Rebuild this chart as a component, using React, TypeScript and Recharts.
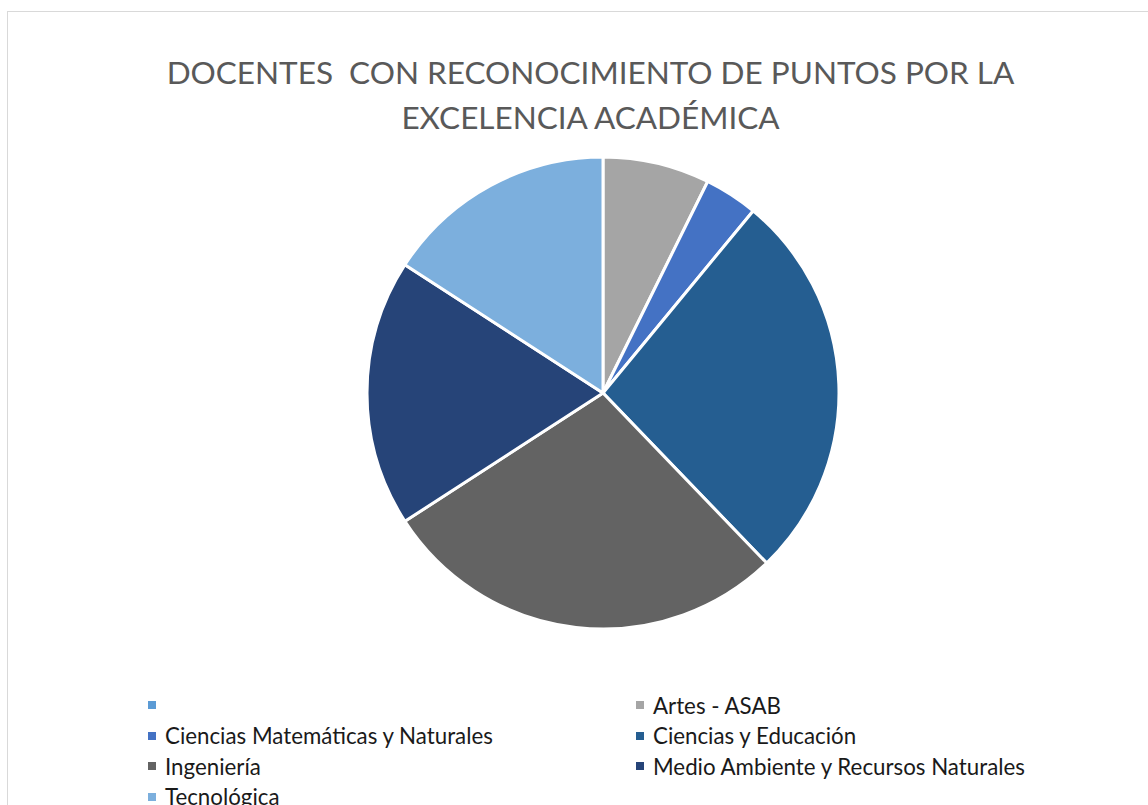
import { PieChart, Pie, Cell, Legend } from 'recharts';

const categories = ['', 'Artes - ASAB', 'Ciencias Matemáticas y Naturales', 'Ciencias y Educación', 'Ingeniería', 'Medio Ambiente y Recursos Naturales', 'Tecnológica'];
const docentes = [0, 6, 3, 22, 23, 15, 13];
const colors = ['#5B9BD5', '#A5A5A5', '#4472C4', '#255E91', '#636363', '#264478', '#7CAFDD'];
const titleLines = ['DOCENTES  CON RECONOCIMIENTO DE PUNTOS POR LA', 'EXCELENCIA ACADÉMICA'];

const data = categories.map((name, i) => ({ name, value: docentes[i] }));

const font = 'Lato, "Open Sans", sans-serif';

function LegendGrid(props: any) {
  const items = (props.payload && props.payload.length ? props.payload : data.map((d, i) => ({ value: d.name, color: colors[i] })));
  return (
    <div style={{ display: 'grid', gridTemplateColumns: '488px 440px', rowGap: 0, fontFamily: font, fontSize: 22.3, color: '#1a1a1a' }}>
      {items.map((it: any, i: number) => (
        <div key={i} style={{ display: 'flex', alignItems: 'center', height: 30.5, whiteSpace: 'pre' }}>
          <span style={{ width: 8, height: 8, background: colors[i], marginRight: 9, flex: 'none' }} />
          <span>{categories[i]}</span>
        </div>
      ))}
    </div>
  );
}

export default function App() {
  return (
    <div style={{ position: 'fixed', left: 0, top: 0, width: 1148, height: 805, overflow: 'hidden', background: '#fff' }}>
      <div style={{ position: 'absolute', left: 7, top: 11, width: 1200, height: 900, border: '1px solid #d9d9d9' }} />
      <div style={{ position: 'absolute', left: 0, top: 50, width: 1181, textAlign: 'center', fontFamily: font, fontSize: 31.5, lineHeight: '45px', color: '#595959', whiteSpace: 'pre' }}>
        {titleLines.map((t) => (
          <div key={t}>{t}</div>
        ))}
      </div>
      <div style={{ position: 'absolute', left: 0, top: 0 }}>
        <PieChart width={1148} height={805}>
          <Pie
            data={data}
            dataKey="value"
            nameKey="name"
            cx={598}
            cy={388}
            outerRadius={236}
            startAngle={90}
            endAngle={-270}
            stroke="#fff"
            strokeWidth={3}
            isAnimationActive={false}
          >
            {data.map((d, i) => (
              <Cell key={i} fill={colors[i]} />
            ))}
          </Pie>
          <Legend
            content={<LegendGrid />}
            wrapperStyle={{ position: 'absolute', left: 148, top: 690, width: 950 }}
          />
        </PieChart>
      </div>
    </div>
  );
}
